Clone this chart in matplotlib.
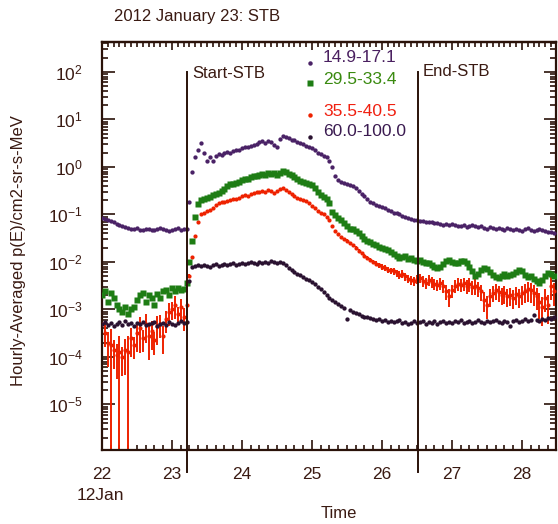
import numpy as np
import matplotlib
matplotlib.use('Agg')
import matplotlib.pyplot as plt
from matplotlib.ticker import FixedLocator, MultipleLocator, LogLocator, NullFormatter, LogFormatterSciNotation
from matplotlib.lines import Line2D

plt.rcParams['font.family'] = ['Liberation Sans', 'DejaVu Sans']
plt.rcParams['mathtext.fontset'] = 'custom'
plt.rcParams['mathtext.rm'] = 'Liberation Sans'

# ---------------- data (log10 of hourly averaged flux, hourly cadence from 22 Jan 00UT) -------------
start_day = 22.0
day_ticks = [22, 23, 24, 25, 26, 27, 28]
start_stb = 23.22
end_stb = 26.52
channel_labels = ["14.9-17.1", "29.5-33.4", "35.5-40.5", "60.0-100.0"]

log_p1 = [-1.08,-1.10,-1.12,-1.14,-1.17,-1.20,-1.22,-1.25,-1.27,-1.29,
          -1.30,-1.31,-1.29,-1.32,-1.33,-1.31,-1.30,-1.33,-1.32,-1.30,
          -1.28,-1.31,-1.33,-1.35,-1.32,-1.30,-1.28,-1.33,-1.31,-1.30,
          -0.74,-0.10,0.20,0.36,0.50,0.30,0.12,0.20,0.13,0.22,
          0.28,0.26,0.30,0.32,0.30,0.34,0.36,0.35,0.40,0.42,
          0.41,0.45,0.47,0.48,0.52,0.54,0.50,0.55,0.52,0.46,
          0.42,0.58,0.65,0.62,0.60,0.57,0.56,0.53,0.50,0.48,
          0.45,0.42,0.39,0.36,0.30,0.27,0.24,0.20,0.12,0.00,
          -0.20,-0.28,-0.31,-0.33,-0.35,-0.38,-0.41,-0.45,-0.50,-0.56,
          -0.62,-0.68,-0.73,-0.77,-0.80,-0.83,-0.85,-0.87,-0.90,-0.93,
          -0.96,-0.98,-1.00,-1.03,-1.06,-1.08,-1.09,-1.11,-1.12,-1.13,
          -1.14,-1.16,-1.15,-1.17,-1.19,-1.18,-1.20,-1.22,-1.21,-1.23,
          -1.20,-1.22,-1.25,-1.24,-1.22,-1.26,-1.24,-1.23,-1.25,-1.27,
          -1.25,-1.28,-1.30,-1.27,-1.29,-1.31,-1.28,-1.30,-1.32,-1.29,
          -1.31,-1.33,-1.30,-1.32,-1.34,-1.31,-1.29,-1.32,-1.34,-1.33,
          -1.30,-1.33,-1.35,-1.37,-1.38,-1.40]

log_p2 = [-2.70,-2.62,-2.85,-2.65,-2.75,-2.90,-3.00,-3.05,-2.95,-3.10,
          -3.00,-2.95,-2.80,-2.70,-2.65,-2.85,-2.70,-2.75,-2.90,-2.68,
          -2.75,-2.62,-2.60,-2.70,-2.55,-2.62,-2.55,-2.60,-2.58,-2.45,
          -2.00,-1.55,-1.05,-0.78,-0.70,-0.68,-0.66,-0.64,-0.60,-0.58,
          -0.55,-0.50,-0.46,-0.40,-0.36,-0.35,-0.33,-0.31,-0.28,-0.25,
          -0.26,-0.22,-0.20,-0.19,-0.16,-0.14,-0.17,-0.13,-0.15,-0.12,
          -0.16,-0.12,-0.08,-0.10,-0.14,-0.18,-0.22,-0.26,-0.30,-0.32,
          -0.33,-0.35,-0.38,-0.45,-0.52,-0.60,-0.63,-0.67,-0.75,-0.95,
          -1.02,-1.08,-1.12,-1.18,-1.25,-1.30,-1.31,-1.35,-1.40,-1.45,
          -1.52,-1.55,-1.58,-1.62,-1.65,-1.68,-1.70,-1.72,-1.75,-1.80,
          -1.84,-1.88,-1.92,-1.90,-1.88,-1.93,-1.92,-1.95,-1.98,-1.96,
          -2.00,-2.03,-2.02,-2.06,-2.10,-2.13,-2.10,-2.04,-1.98,-1.97,
          -2.00,-2.03,-2.02,-1.99,-1.98,-2.02,-2.10,-2.20,-2.30,-2.25,
          -2.18,-2.13,-2.15,-2.22,-2.28,-2.32,-2.34,-2.30,-2.26,-2.29,
          -2.27,-2.25,-2.22,-2.17,-2.20,-2.28,-2.32,-2.30,-2.35,-2.40,
          -2.44,-2.38,-2.30,-2.24,-2.26,-2.30]

log_p3 = [-3.30,-3.50,-3.70,-3.75,-3.85,-3.95,-3.90,-4.00,-3.85,-3.90,
          -3.60,-3.75,-3.50,-3.40,-3.60,-3.30,-3.55,-3.45,-3.65,-3.35,
          -3.30,-3.55,-3.20,-3.05,-3.00,-2.90,-3.10,-2.95,-3.15,-2.90,
          -2.30,-1.90,-1.45,-1.15,-1.00,-0.96,-0.92,-0.90,-0.86,-0.80,
          -0.76,-0.74,-0.73,-0.72,-0.70,-0.68,-0.67,-0.65,-0.62,-0.60,
          -0.61,-0.57,-0.55,-0.52,-0.53,-0.50,-0.52,-0.48,-0.50,-0.54,
          -0.51,-0.47,-0.44,-0.48,-0.53,-0.58,-0.62,-0.65,-0.68,-0.70,
          -0.72,-0.76,-0.82,-0.86,-0.92,-0.96,-1.00,-1.06,-1.12,-1.25,
          -1.35,-1.42,-1.48,-1.52,-1.55,-1.60,-1.65,-1.70,-1.76,-1.82,
          -1.88,-1.92,-1.96,-2.00,-2.04,-2.07,-2.10,-2.13,-2.16,-2.18,
          -2.20,-2.24,-2.27,-2.25,-2.30,-2.35,-2.38,-2.40,-2.36,-2.34,
          -2.40,-2.44,-2.38,-2.42,-2.46,-2.48,-2.44,-2.50,-2.62,-2.72,
          -2.60,-2.50,-2.46,-2.48,-2.45,-2.50,-2.47,-2.52,-2.50,-2.55,
          -2.62,-2.80,-2.90,-2.72,-2.65,-2.60,-2.64,-2.70,-2.66,-2.72,
          -2.70,-2.75,-2.68,-2.72,-2.66,-2.62,-2.58,-2.60,-2.66,-2.72,
          -2.85,-2.95,-2.75,-2.90,-2.50,-2.62]

# relative (fractional) uncertainty of the 35.5-40.5 channel
err_p3 = [0.6,0.5,0.7,1.2,0.6,0.7,1.2,0.6,0.7,1.2,
          0.6,0.5,0.6,0.7,0.5,0.6,0.7,0.6,0.5,0.6,
          0.5,0.6,0.5,0.5,0.4,0.5,0.4,0.5,0.5,0.4,
          0.10,0.06,0.05,0.05,0.04,0.04,0.04,0.04,0.04,0.04,
          0.04,0.04,0.04,0.04,0.04,0.04,0.04,0.04,0.04,0.04,
          0.04,0.04,0.04,0.04,0.04,0.04,0.04,0.04,0.04,0.04,
          0.04,0.04,0.04,0.04,0.04,0.04,0.04,0.04,0.04,0.04,
          0.05,0.05,0.05,0.05,0.05,0.05,0.05,0.05,0.05,0.06,
          0.06,0.06,0.06,0.07,0.07,0.07,0.08,0.08,0.08,0.09,
          0.09,0.10,0.10,0.11,0.12,0.12,0.13,0.14,0.15,0.15,
          0.16,0.17,0.18,0.18,0.19,0.20,0.21,0.22,0.22,0.23,
          0.24,0.25,0.25,0.26,0.27,0.28,0.28,0.30,0.35,0.40,
          0.32,0.30,0.30,0.31,0.32,0.33,0.33,0.34,0.35,0.35,
          0.36,0.45,0.50,0.40,0.37,0.37,0.38,0.39,0.40,0.40,
          0.41,0.42,0.42,0.43,0.44,0.44,0.45,0.46,0.46,0.48,
          0.55,0.60,0.50,0.60,0.50,0.50]

log_p4 = [-3.30,-3.26,-3.33,-3.28,-3.35,-3.30,-3.27,-3.32,-3.25,-3.31,
          -3.29,-3.34,-3.28,-3.30,-3.26,-3.33,-3.31,-3.29,-3.27,-3.35,
          -3.30,-3.28,-3.32,-3.26,-3.30,-3.33,-3.28,-3.25,-3.29,-3.27,
          -2.40,-2.10,-2.08,-2.07,-2.09,-2.06,-2.08,-2.10,-2.07,-2.05,
          -2.08,-2.06,-2.04,-2.07,-2.05,-2.03,-2.06,-2.04,-2.02,-2.05,
          -2.03,-2.00,-2.02,-2.04,-2.01,-2.03,-2.00,-2.02,-1.99,-2.01,
          -2.03,-2.00,-2.02,-2.06,-2.12,-2.18,-2.22,-2.25,-2.28,-2.31,
          -2.35,-2.38,-2.42,-2.46,-2.52,-2.58,-2.64,-2.70,-2.75,-2.80,
          -2.85,-2.88,-2.92,-2.96,-3.20,-3.02,-3.05,-3.08,-3.10,-3.13,
          -3.15,-3.17,-3.19,-3.20,-3.22,-3.21,-3.24,-3.22,-3.26,-3.24,
          -3.27,-3.25,-3.23,-3.28,-3.26,-3.30,-3.28,-3.25,-3.29,-3.27,
          -3.24,-3.30,-3.26,-3.28,-3.25,-3.30,-3.27,-3.24,-3.28,-3.26,
          -3.29,-3.25,-3.27,-3.23,-3.28,-3.26,-3.24,-3.29,-3.27,-3.22,
          -3.26,-3.28,-3.24,-3.27,-3.25,-3.22,-3.26,-3.28,-3.24,-3.27,
          -3.35,-3.25,-3.22,-3.26,-3.24,-3.20,-3.25,-3.23,-3.12,-3.22,
          -3.25,-3.20,-3.23,-3.18,-3.20,-3.17]

# ---------------- styling ----------------
W, H = 558, 524
TXT = '#3a1a12'
AX = '#2a1209'
C1 = '#4a2266'
C2 = '#1e7d14'
C3 = '#ee2200'
C4 = '#2a1230'
LEG = ['#4a2060', '#3a8a10', '#f02010', '#3a1a50']

fig = plt.figure(figsize=(W / 100, H / 100), dpi=100)
ax = fig.add_axes([102 / W, (H - 450) / H, (556 - 102) / W, (450 - 42) / H])
ax.set_yscale('log')
ymin, ymax = 10 ** -5.96, 10 ** 2.63
ax.set_ylim(ymin, ymax)
ax.set_xlim(22.0, 22.0 + 454 / 70)


def times(vals):
    return start_day + np.arange(len(vals)) / 24.0


# red channel with error bars
v3 = 10 ** np.array(log_p3)
e3 = v3 * np.array(err_p3)
lo = np.where(v3 - e3 > 0, v3 - e3, ymin * 0.5)
hi = v3 + e3
t3 = times(log_p3)
ax.vlines(t3, lo, hi, color=C3, lw=1.4, zorder=2)
ax.plot(t3, v3, ls='none', marker='o', ms=3.0, mec='none', color=C3, zorder=3)

ax.plot(times(log_p2), 10 ** np.array(log_p2), ls='none', marker='s', ms=3.8,
        mec='none', color=C2, zorder=4)
ax.plot(times(log_p4), 10 ** np.array(log_p4), ls='none', marker='o', ms=3.1,
        mec='none', color=C4, zorder=5)
ax.plot(times(log_p1), 10 ** np.array(log_p1), ls='none', marker='o', ms=3.1,
        mec='none', color=C1, zorder=5)

# Start / End markers (extend below the axis)
y_top = (450 - 72) / 408
y_bot = (450 - 472) / 408
for xd in (start_stb, end_stb):
    ax.plot([xd, xd], [y_top, y_bot], transform=ax.get_xaxis_transform(),
            color=AX, lw=1.4, clip_on=False, zorder=6)
fig.text(192 / W, 1 - 66 / H, 'Start-STB', fontsize=12, color=TXT, va='top', ha='left')
fig.text(423 / W, 1 - 64 / H, 'End-STB', fontsize=12, color=TXT, va='top', ha='left')

# axes styling
for s in ax.spines.values():
    s.set_color(AX)
    s.set_linewidth(1.6)

ax.xaxis.set_major_locator(FixedLocator(day_ticks))
ax.xaxis.set_minor_locator(MultipleLocator(1 / 8))
ax.set_xticklabels([str(d) for d in day_ticks])
ax.yaxis.set_major_locator(FixedLocator([10.0 ** k for k in range(-5, 3)]))
ax.yaxis.set_minor_locator(LogLocator(base=10, subs=np.arange(2, 10), numticks=30))
ax.yaxis.set_major_formatter(LogFormatterSciNotation())
ax.yaxis.set_minor_formatter(NullFormatter())

ax.tick_params(axis='both', which='both', direction='in', color=AX, width=1.2,
               labelcolor=TXT, labelsize=12.5)
ax.tick_params(axis='y', which='major', length=9, pad=14, right=True)
ax.tick_params(axis='y', which='minor', length=4.5, right=True)
ax.tick_params(axis='x', which='major', length=7, pad=12)
ax.tick_params(axis='x', which='minor', length=3.5)

sec = ax.secondary_xaxis('top')
sec.xaxis.set_major_locator(FixedLocator(day_ticks))
sec.xaxis.set_minor_locator(MultipleLocator(1 / 12))
sec.tick_params(axis='x', which='both', direction='in', color=AX, width=1.2, labeltop=False)
sec.tick_params(axis='x', which='major', length=6)
sec.tick_params(axis='x', which='minor', length=3.5)
sec.spines['top'].set_color(AX)
sec.spines['top'].set_linewidth(1.6)

# legend (manual)
leg_marker_y = [63, 83, 115, 137]
leg_text_y = [58, 80, 111, 132]
leg_markers = ['o', 's', 'o', 'o']
leg_ms = [3.2, 3.8, 3.2, 3.2]
leg_mc = [C1, C2, C3, C4]
for lab, my, ty, mk, ms, mc, tc in zip(channel_labels, leg_marker_y, leg_text_y,
                                        leg_markers, leg_ms, leg_mc, LEG):
    fig.add_artist(Line2D([310 / W], [1 - my / H], marker=mk, ms=ms, color=mc,
                          mec='none', ls='none', transform=fig.transFigure))
    fig.text(323 / W, 1 - ty / H, lab, fontsize=12.5, color=tc, va='center', ha='left')

# labels
fig.text(114 / W, 1 - 16 / H, '2012 January 23: STB', fontsize=12, color=TXT,
         va='center', ha='left')
fig.text(19 / W, 1 - 251 / H, 'Hourly-Averaged p(E)/cm2-sr-s-MeV', fontsize=12,
         color=TXT, rotation=90, va='center', ha='center')
fig.text(100 / W, 1 - 496 / H, '12Jan', fontsize=12.5, color=TXT, va='center', ha='center')
fig.text(339 / W, 1 - 513 / H, 'Time', fontsize=12, color=TXT, va='center', ha='center')

fig.savefig('out.png', dpi=100, facecolor='white')
